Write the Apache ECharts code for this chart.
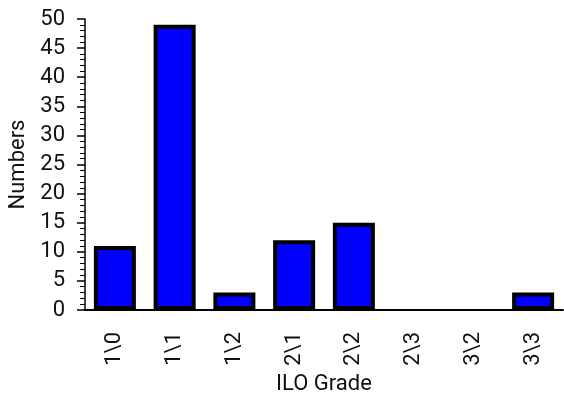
<!DOCTYPE html>
<html>
<head>
<meta charset="utf-8">
<script src="https://cdn.jsdelivr.net/npm/echarts@6/dist/echarts.min.js"></script>
<style>
	html, body { margin: 0; padding: 0; background: #fff; }
	#chart { width: 564px; height: 395px; }
</style>
</head>
<body>
<div id="chart"></div>
<script>
	var grades = ['1\\0', '1\\1', '1\\2', '2\\1', '2\\2', '2\\3', '3\\2', '3\\3'];
	var numbers = [11, 49, 3, 12, 15, 0, 0, 3];
	var yTicks = [0, 5, 10, 15, 20, 25, 30, 35, 40, 45, 50];

	var font = 'Roboto, "DejaVu Sans Condensed", sans-serif';
	var chart = echarts.init(document.getElementById('chart'));

	// zero bars are not drawn in the original (no outline)
	var barData = numbers.map(function(v) {
		return v === 0 ? '-' : v;
	});

	var option = {
		animation: false,
		grid: {
			left: 85,
			right: 1,
			top: 19,
			bottom: 85,
			containLabel: false,
			outerBoundsMode: 'none'
		},
		xAxis: {
			type: 'category',
			data: grades,
			name: 'ILO Grade',
			nameLocation: 'middle',
			nameGap: 62,
			nameTextStyle: {
				color: '#111',
				fontFamily: font,
				fontSize: 22
			},
			axisLine: {
				lineStyle: { color: '#000', width: 2 }
			},
			axisTick: {
				length: 8,
				lineStyle: { color: '#000', width: 1.5 }
			},
			axisLabel: {
				rotate: 90,
				margin: 22,
				color: '#111',
				fontFamily: font,
				fontSize: 22
			}
		},
		yAxis: {
			type: 'value',
			min: yTicks[0],
			max: yTicks[yTicks.length - 1],
			interval: 5,
			name: 'Numbers',
			nameLocation: 'middle',
			nameGap: 56,
			nameTextStyle: {
				color: '#111',
				fontFamily: font,
				fontSize: 22
			},
			axisLine: {
				show: true,
				lineStyle: { color: '#000', width: 1.5 }
			},
			axisTick: {
				show: true,
				length: 8,
				lineStyle: { color: '#000', width: 1.5 }
			},
			minorTick: {
				show: true,
				splitNumber: 5,
				length: 5,
				lineStyle: { color: '#000', width: 1 }
			},
			axisLabel: {
				margin: 20,
				color: '#111',
				fontFamily: font,
				fontSize: 22
			},
			splitLine: { show: false }
		},
		series: [{
			type: 'bar',
			data: barData,
			barWidth: 42,
			itemStyle: {
				color: '#0000ff',
				borderColor: '#000',
				borderWidth: 4
			}
		}]
	};

	chart.setOption(option);
</script>
</body>
</html>
